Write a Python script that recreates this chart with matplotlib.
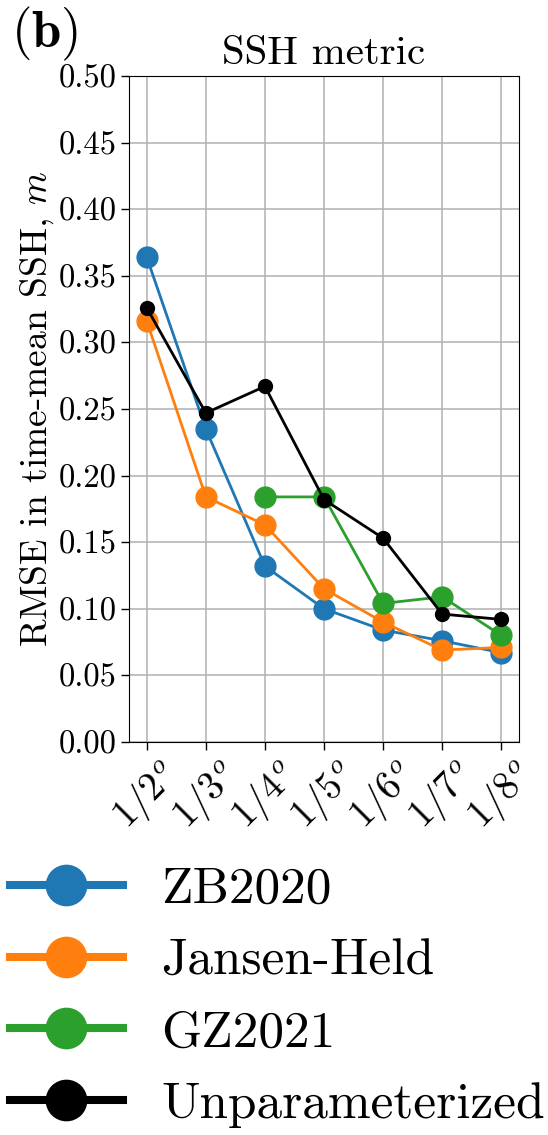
import numpy as np
import matplotlib
matplotlib.use('Agg')
import matplotlib.pyplot as plt
from matplotlib.lines import Line2D

plt.rcParams['font.family'] = 'serif'
plt.rcParams['font.serif'] = ['cmr10']
plt.rcParams['mathtext.fontset'] = 'cm'
plt.rcParams['axes.unicode_minus'] = False
plt.rcParams['axes.formatter.use_mathtext'] = True

resolutions = [2, 3, 4, 5, 6, 7, 8]
tick_labels = [f'$1/{r}^o$' for r in resolutions]

zb2020 = [0.364, 0.235, 0.132, 0.100, 0.084, 0.076, 0.067]
jansen_held = [0.316, 0.184, 0.163, 0.115, 0.090, 0.069, 0.071]
gz2021 = [np.nan, np.nan, 0.184, 0.184, 0.104, 0.109, 0.080]
unparam = [0.326, 0.247, 0.267, 0.182, 0.153, 0.096, 0.092]

series = {
    'ZB2020': (zb2020, 'tab:blue', 15),
    'Jansen-Held': (jansen_held, 'tab:orange', 15),
    'GZ2021': (gz2021, 'tab:green', 15),
    'Unparameterized': (unparam, 'k', 10),
}

fig = plt.figure(figsize=(5.48, 11.35), dpi=100)
ax = fig.add_axes([0.2354, 0.3463, 0.7117, 0.5867])

x = np.arange(len(resolutions))
for name, (vals, color, ms) in series.items():
    ax.plot(x, vals, '-o', color=color, lw=2, ms=ms, label=name)

yticks = np.arange(0, 0.501, 0.05)
ax.set_ylim(0, 0.5)
ax.set_yticks(yticks)
ax.set_yticklabels([f'{v:.2f}' for v in yticks], fontsize=23.5)
ax.set_xticks(x)
ax.set_xticklabels(tick_labels, rotation=45, fontsize=28)
ax.tick_params(length=5.5, width=1)
ax.grid(True, color='#b0b0b0', lw=1.1)
ax.set_title('SSH metric', fontsize=29.5, pad=9)
ax.set_ylabel('RMSE in time-mean SSH, $m$', fontsize=27, labelpad=2)

fig.text(0.02, 0.996, r'$\mathbf{(b)}$', fontsize=38, va='top', ha='left')

# bigger proxy handles for the legend below the axes
handles = [Line2D([], [], color=c, lw=5.8, marker='o', ms=29)
           for (_, c, _) in series.values()]
fig.legend(handles, list(series.keys()), loc='upper left',
           bbox_to_anchor=(0.018, 0.236), frameon=False, fontsize=37,
           handlelength=2.2, handletextpad=0.75, labelspacing=0.5,
           borderpad=0, borderaxespad=0)

fig.savefig('out.png', dpi=100)
